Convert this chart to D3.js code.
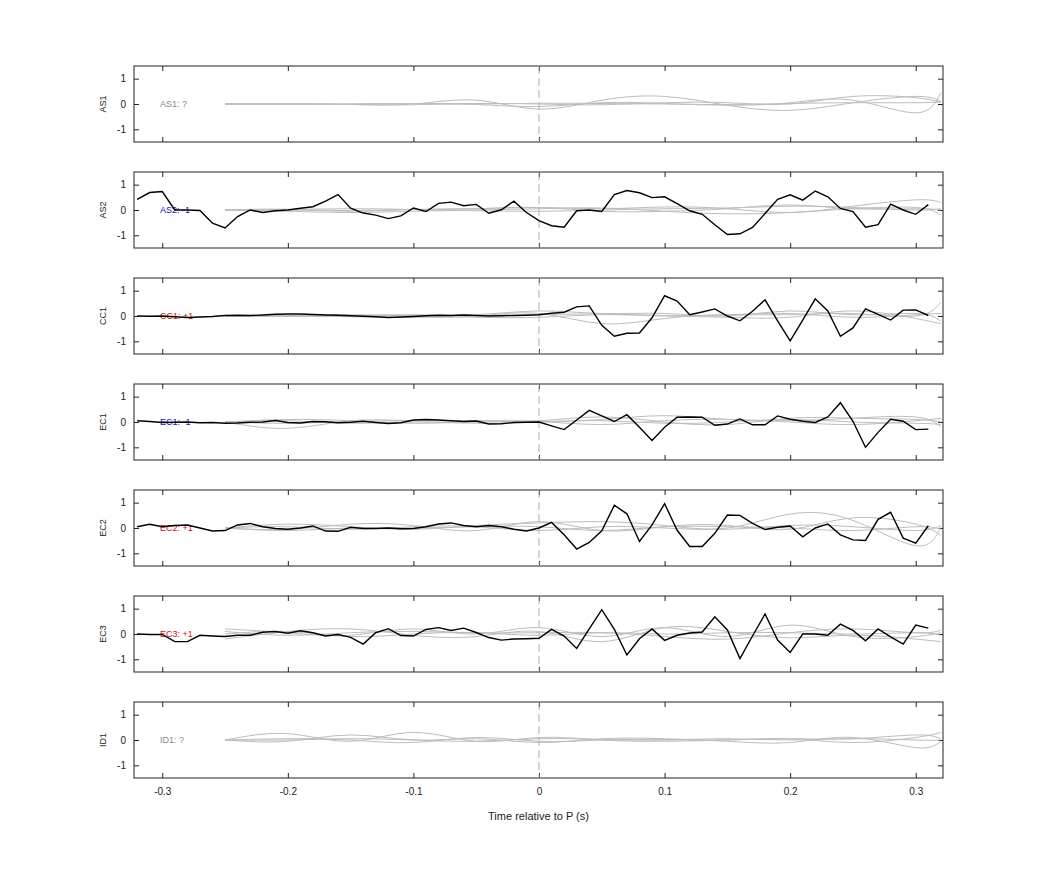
<!DOCTYPE html>
<html>
<head>
<meta charset="utf-8">
<script src="https://cdn.jsdelivr.net/npm/d3@7"></script>
<style>
  body { margin: 0; background: #fff; }
  text { font-family: "Liberation Sans", Arial, sans-serif; }
</style>
</head>
<body>
<div id="chart"></div>
<script>
// black traces: one sample every 0.01 s from -0.32 to 0.31
const times = d3.range(64).map(i => +(-0.32 + i * 0.01).toFixed(2));
// gray traces: knots every 0.05 s from -0.25, plus the right edge
const grayTimes = [-0.25, -0.2, -0.15, -0.1, -0.05, 0, 0.05, 0.1, 0.15, 0.2, 0.25, 0.3, 0.32];

const channels = ['AS1', 'AS2', 'CC1', 'EC1', 'EC2', 'EC3', 'ID1'];
const labels = ['AS1: ?', 'AS2: -1', 'CC1: +1', 'EC1: -1', 'EC2: +1', 'EC3: +1', 'ID1: ?'];
const labelColors = ['#888', '#1010c0', '#d01010', '#1010c0', '#d01010', '#d01010', '#888'];

const as2 = [0.42, 0.69, 0.73, 0, 0, -0.02, -0.52, -0.71, -0.26, 0, -0.1, -0.03, 0, 0.07, 0.13, 0.35,
  0.61, 0.07, -0.12, -0.2, -0.34, -0.23, 0.08, -0.06, 0.26, 0.31, 0.17, 0.22, -0.13, 0.01, 0.35, -0.1,
  -0.42, -0.62, -0.68, -0.03, 0, -0.06, 0.61, 0.77, 0.68, 0.49, 0.52, 0.25, -0.03, -0.17, -0.58, -0.97,
  -0.94, -0.69, -0.14, 0.42, 0.6, 0.39, 0.75, 0.52, 0.06, -0.06, -0.68, -0.58, 0.23, 0, -0.17, 0.21];
const cc1 = [0, -0.01, 0, -0.03, -0.06, -0.04, -0.02, 0.02, 0.03, 0.02, 0.04, 0.07, 0.08, 0.08, 0.06, 0.04,
  0.03, 0.01, -0.01, -0.03, -0.06, -0.04, -0.02, 0.01, 0.03, 0.02, 0.04, 0.02, 0, 0.01, 0.02, 0.03,
  0.05, 0.11, 0.15, 0.36, 0.4, -0.37, -0.8, -0.68, -0.67, -0.07, 0.8, 0.59, 0.05, 0.16, 0.28, 0,
  -0.19, 0.19, 0.64, -0.19, -0.98, -0.16, 0.68, 0.2, -0.8, -0.47, 0.28, 0.06, -0.16, 0.23, 0.24, 0.02];
const ec1 = [0.05, 0.02, -0.02, -0.01, 0, -0.03, -0.02, -0.05, -0.04, -0.01, 0, 0.06, -0.02, -0.04, 0.02, 0.01,
  -0.03, -0.01, 0.03, -0.02, -0.06, -0.03, 0.08, 0.1, 0.08, 0.05, 0.02, 0.04, -0.08, -0.07, -0.02, -0.01,
  0, -0.15, -0.3, 0.08, 0.46, 0.24, 0.02, 0.29, -0.21, -0.73, -0.21, 0.19, 0.2, 0.19, -0.13, -0.08,
  0.12, -0.11, -0.11, 0.24, 0.11, 0.03, -0.02, 0.2, 0.76, 0.03, -1.0, -0.41, 0.11, 0.03, -0.3, -0.28];
const ec2 = [0.05, 0.15, 0.05, 0.1, 0.12, 0, -0.12, -0.1, 0.12, 0.18, 0.05, -0.02, -0.05, 0, 0.08, -0.12,
  -0.13, 0.03, -0.02, -0.02, 0, -0.03, -0.02, 0.05, 0.16, 0.2, 0.1, 0.05, 0.1, 0.05, -0.05, -0.12,
  0, 0.22, -0.27, -0.83, -0.57, -0.11, 0.9, 0.56, -0.53, 0.12, 0.96, -0.09, -0.73, -0.73, -0.21, 0.51,
  0.5, 0.18, -0.06, 0.03, 0.08, -0.35, 0, 0.16, -0.27, -0.47, -0.49, 0.34, 0.62, -0.4, -0.6, 0.09];
const ec3 = [0, -0.02, -0.02, -0.3, -0.3, -0.05, -0.08, -0.1, -0.05, -0.05, 0.07, 0.1, 0.03, 0.13, 0.05, -0.08,
  -0.02, -0.13, -0.4, 0.05, 0.21, -0.06, -0.08, 0.18, 0.25, 0.14, 0.23, 0.06, -0.14, -0.24, -0.2, -0.19,
  -0.17, 0.18, -0.08, -0.57, 0.2, 0.96, 0.18, -0.83, -0.19, 0.2, -0.25, -0.05, 0.04, 0.08, 0.68, 0.16,
  -0.97, -0.08, 0.79, -0.24, -0.73, 0, 0, -0.05, 0.39, 0.14, -0.27, 0.2, -0.11, -0.4, 0.35, 0.23];
const blackTraces = [null, as2, cc1, ec1, ec2, ec3, null];

const grayAS1 = [
  [0, 0, -0.02, 0, 0.15, -0.2, 0.15, 0.3, -0.05, -0.25, 0.05, 0.3, 0.1],
  [0, -0.02, 0, 0.02, -0.02, -0.1, 0.05, 0.02, -0.05, 0.05, 0.15, -0.35, 0.45],
  [0, 0.02, -0.02, -0.03, 0.02, 0, -0.03, 0.05, 0.05, 0, 0.3, 0.25, 0.05],
  [0, 0, 0, 0.02, 0, 0.03, 0.02, 0, -0.02, 0.02, 0.05, 0.05, 0.08]];
const grayAS2 = [
  [0, 0.03, -0.05, 0.02, 0.05, 0.1, 0.05, 0.12, 0.05, -0.1, 0.15, 0.4, 0.3],
  [0, -0.05, -0.1, -0.05, 0, 0.05, 0.08, -0.05, -0.15, -0.1, 0.05, 0.1, -0.2],
  [0, 0.02, 0.05, 0.02, -0.03, -0.05, 0, 0.05, 0.08, 0.15, 0.1, 0, 0.05],
  [0, 0, -0.02, 0.02, 0.05, 0.1, -0.05, -0.05, 0.05, 0.2, 0.05, 0.05, 0]];
const grayCC1 = [
  [0, 0.02, -0.03, -0.05, 0, 0.1, -0.3, -0.1, 0.05, 0.05, 0.1, 0, 0.55],
  [0, -0.02, 0.02, 0.05, 0.05, 0.2, 0.1, 0.1, 0, 0.2, 0.05, 0.1, -0.2],
  [0, 0.03, 0.05, 0, -0.05, -0.05, 0.05, 0, -0.05, -0.05, 0.2, -0.1, -0.3],
  [0, 0, 0, 0.02, 0.02, 0.05, 0.08, 0.02, 0.05, 0.1, -0.05, 0.05, 0.1]];
const grayEC1 = [
  [0, -0.25, 0.05, 0.05, 0.05, 0.02, 0.1, 0.25, 0.1, 0.05, 0.15, 0.2, -0.2],
  [0, 0.1, 0.05, -0.05, 0, 0.05, 0.2, 0, -0.1, 0.15, 0.15, 0.1, 0],
  [0, -0.05, 0.02, 0.05, 0.05, 0.02, -0.1, 0.05, 0.1, 0, -0.1, 0.05, 0.15],
  [0, 0.05, -0.05, 0, -0.05, 0, 0.05, -0.05, 0, 0.1, 0, -0.05, -0.1]];
const grayEC2 = [
  [0, 0.15, 0.05, -0.05, 0.1, 0.2, 0.25, 0.1, 0, 0.55, 0.3, -0.7, 0.05],
  [0, -0.05, 0.15, 0.1, -0.1, 0.25, -0.1, 0.05, 0.1, -0.05, 0.4, 0.15, -0.3],
  [0, 0.05, -0.05, 0.05, 0.05, -0.1, 0.05, 0, -0.05, 0.1, 0.05, -0.1, 0.1],
  [0, -0.1, 0, 0, 0.05, 0.05, -0.1, 0.05, 0.05, 0, -0.1, 0.05, -0.05]];
const grayEC3 = [
  [0.2, 0.05, -0.05, 0.2, 0, 0.25, -0.1, 0.25, -0.1, 0.35, -0.1, -0.1, 0.05],
  [-0.2, 0.1, 0.2, -0.05, -0.1, 0.1, -0.3, 0.25, 0.1, -0.15, -0.05, -0.2, -0.3],
  [0.1, -0.05, 0.05, 0.1, 0.05, 0.05, 0.05, -0.1, -0.2, 0.05, 0.2, 0.05, 0.15],
  [0, 0.1, -0.1, 0, 0.05, -0.05, 0.05, 0, 0.05, 0.05, 0, 0.05, -0.05]];
const grayID1 = [
  [0, 0.25, -0.05, 0.3, -0.05, 0.1, 0, -0.05, 0, 0.05, 0.05, 0.2, 0.05],
  [0, -0.05, 0.2, 0, 0.05, -0.1, 0.05, 0.05, -0.05, -0.1, 0.1, -0.3, -0.05],
  [0, 0.05, 0, -0.1, 0.1, -0.05, 0, 0.02, 0, 0.05, -0.1, 0.1, 0.3],
  [0, 0, 0.05, 0, -0.05, 0.05, 0.02, 0, 0.05, 0, 0.05, 0, 0]];
const grayTraces = [grayAS1, grayAS2, grayCC1, grayEC1, grayEC2, grayEC3, grayID1];

const yTicks = [-1, 0, 1];
const xTicks = [-0.3, -0.2, -0.1, 0, 0.1, 0.2, 0.3];

const width = 1042, height = 875;
const left = 134, right = 943, panelTop = 66, panelH = 76, panelStep = 106;

const svg = d3.select('#chart').append('svg')
  .attr('width', width).attr('height', height);

const x = d3.scaleLinear().domain([-0.3225, 0.3217]).range([left, right]);

channels.forEach((ch, i) => {
  const top = panelTop + i * panelStep;
  const y = d3.scaleLinear().domain([-1.5, 1.5]).range([top + panelH, top]);
  const g = svg.append('g');
  const last = i === channels.length - 1;

  // inward ticks on all four sides
  const bottom = g.append('g').attr('transform', `translate(0,${top + panelH})`)
    .call(d3.axisBottom(x).tickValues(xTicks).tickSizeInner(-5).tickSizeOuter(0)
      .tickFormat(last ? d => String(d) : ''));
  bottom.selectAll('.tick text').attr('dy', '1.4em');
  g.append('g').attr('transform', `translate(0,${top})`)
    .call(d3.axisTop(x).tickValues(xTicks).tickSizeInner(-5).tickSizeOuter(0).tickFormat(''));
  g.append('g').attr('transform', `translate(${left},0)`)
    .call(d3.axisLeft(y).tickValues(yTicks).tickSizeInner(-5).tickSizeOuter(0).tickPadding(8)
      .tickFormat(d => String(d)));
  g.append('g').attr('transform', `translate(${right},0)`)
    .call(d3.axisRight(y).tickValues(yTicks).tickSizeInner(-5).tickSizeOuter(0).tickFormat(''));
  g.selectAll('.domain').remove();
  g.selectAll('.tick line').attr('stroke', '#222');
  g.selectAll('.tick text').attr('font-size', 10).attr('fill', '#222');

  g.append('rect').attr('x', left).attr('y', top).attr('width', right - left).attr('height', panelH)
    .attr('fill', 'none').attr('stroke', '#222').attr('stroke-width', 1);

  const clip = 'clip' + i;
  svg.append('clipPath').attr('id', clip).append('rect')
    .attr('x', left).attr('y', top).attr('width', right - left).attr('height', panelH);
  const plot = g.append('g').attr('clip-path', `url(#${clip})`);

  // zero-time marker
  plot.append('line').attr('x1', x(0)).attr('x2', x(0)).attr('y1', top).attr('y2', top + panelH)
    .attr('stroke', '#c8a4a4').attr('stroke-dasharray', '8,4').attr('stroke-width', 1);

  const grayLine = d3.line().x((d, k) => x(grayTimes[k])).y(d => y(d)).curve(d3.curveNatural);
  grayTraces[i].forEach(s => {
    plot.append('path').attr('d', grayLine(s)).attr('fill', 'none')
      .attr('stroke', '#bdbdbd').attr('stroke-width', 1);
  });

  plot.append('text').attr('x', 160).attr('y', y(0)).attr('dy', '0.35em')
    .attr('font-size', 9).attr('fill', labelColors[i]).text(labels[i]);

  if (blackTraces[i]) {
    const line = d3.line().x((d, k) => x(times[k])).y(d => y(d));
    plot.append('path').attr('d', line(blackTraces[i])).attr('fill', 'none')
      .attr('stroke', '#000').attr('stroke-width', 1.4);
  }

  svg.append('text').attr('transform', `translate(106,${top + panelH / 2}) rotate(-90)`)
    .attr('text-anchor', 'middle').attr('font-size', 9).attr('fill', '#222').text(ch);
});

svg.append('text').attr('x', (left + right) / 2).attr('y', 820).attr('text-anchor', 'middle')
  .attr('font-size', 11).attr('fill', '#222').text('Time relative to P (s)');
</script>
</body>
</html>
